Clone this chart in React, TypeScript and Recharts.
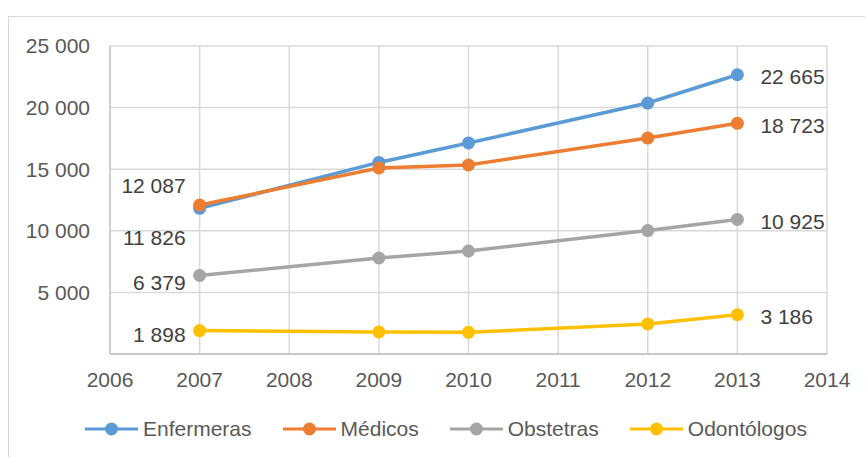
import React from 'react';
import { LineChart, Line, XAxis, YAxis, CartesianGrid, Legend } from 'recharts';

const years = [2007, 2009, 2010, 2012, 2013];
const enfermeras = [11826, 15550, 17130, 20370, 22665];
const medicos = [12087, 15100, 15340, 17530, 18723];
const obstetras = [6379, 7790, 8360, 10020, 10925];
const odontologos = [1898, 1790, 1760, 2440, 3186];

const seriesNames = ['Enfermeras', 'Médicos', 'Obstetras', 'Odontólogos'];
const seriesKeys = ['enf', 'med', 'obs', 'odo'];
const seriesValues = [enfermeras, medicos, obstetras, odontologos];

const xTicks = [2006, 2007, 2008, 2009, 2010, 2011, 2012, 2013, 2014];
const yTicks = [0, 5000, 10000, 15000, 20000, 25000];

const colors: Record<string, string> = { enf: '#5B9BD5', med: '#ED7D31', obs: '#A5A5A5', odo: '#FFC000' };
const firstLabelDy: Record<string, number> = { enf: 29, med: -20, obs: 7, odo: 4 };

const data = years.map((y, i) => {
  const row: any = { year: y };
  seriesKeys.forEach((k, j) => { row[k] = seriesValues[j][i]; });
  return row;
});

const fmt = (v: number) => String(v).replace(/\B(?=(\d{3})+(?!\d))/g, ' ');
const FONT = 'Liberation Sans, Arial, sans-serif';

const makeLabel = (key: string) => (props: any) => {
  const { x, y, value, index } = props;
  if (index === 0) {
    return (
      <text x={x - 14} y={y + firstLabelDy[key]} textAnchor="end" dominantBaseline="central"
        fontSize={21} fill="#404040" fontFamily={FONT}>{fmt(value)}</text>
    );
  }
  if (index === years.length - 1) {
    return (
      <text x={x + 23} y={y + 2} textAnchor="start" dominantBaseline="central"
        fontSize={21} fill="#404040" fontFamily={FONT}>{fmt(value)}</text>
    );
  }
  return null;
};

const LegendContent = () => (
  <div style={{ display: 'flex', alignItems: 'center', paddingLeft: 85, fontFamily: FONT, fontSize: 21, color: '#595959' }}>
    {seriesKeys.map((k, i) => (
      <div key={k} style={{ display: 'flex', alignItems: 'center', marginRight: 31 }}>
        <svg width={53} height={16} style={{ marginRight: 5 }}>
          <line x1={0} y1={8} x2={53} y2={8} stroke={colors[k]} strokeWidth={3} />
          <circle cx={26.5} cy={8} r={6.5} fill={colors[k]} />
        </svg>
        <span>{seriesNames[i]}</span>
      </div>
    ))}
  </div>
);

export default function App() {
  return (
    <div style={{ position: 'absolute', left: 0, top: 0, width: 865, height: 457, background: '#fff', overflow: 'hidden' }}>
      <div style={{ position: 'absolute', left: 8, top: 16, width: 900, height: 500, borderLeft: '1px solid #d9d9d9', borderTop: '1px solid #d9d9d9' }} />
      <div style={{ position: 'absolute', left: 0, top: 0 }}>
        <LineChart width={865} height={457} data={data} margin={{ top: 46, right: 38, left: 0, bottom: 0 }}>
          <CartesianGrid stroke="#d9d9d9" strokeWidth={1.5} />
          <XAxis dataKey="year" type="number" domain={[2006, 2014]} ticks={xTicks} allowDataOverflow
            height={103} tickLine={false} tickSize={0} tickMargin={18} axisLine={{ stroke: '#bfbfbf', strokeWidth: 1.5 }}
            tick={{ fontSize: 21, fill: '#595959', fontFamily: FONT }} interval={0} />
          <YAxis type="number" domain={[0, 25000]} ticks={yTicks} width={110} tickLine={false} tickSize={0} tickMargin={20}
            axisLine={{ stroke: '#c8c8c8', strokeWidth: 1.5 }} tickFormatter={(v: number) => (v === 0 ? '' : fmt(v))}
            tick={{ fontSize: 21, fill: '#595959', fontFamily: FONT }} interval={0} />
          <Legend verticalAlign="middle" align="center" layout="horizontal" content={<LegendContent />}
            wrapperStyle={{ top: 417, left: 0, width: 865, height: 24 }} />
          {seriesKeys.map((k, i) => (
            <Line key={k} type="linear" dataKey={k} name={seriesNames[i]} stroke={colors[k]} strokeWidth={3.5}
              dot={{ r: 6.5, fill: colors[k], stroke: colors[k], strokeWidth: 0 }} activeDot={false}
              isAnimationActive={false} label={makeLabel(k)} />
          ))}
        </LineChart>
      </div>
    </div>
  );
}
